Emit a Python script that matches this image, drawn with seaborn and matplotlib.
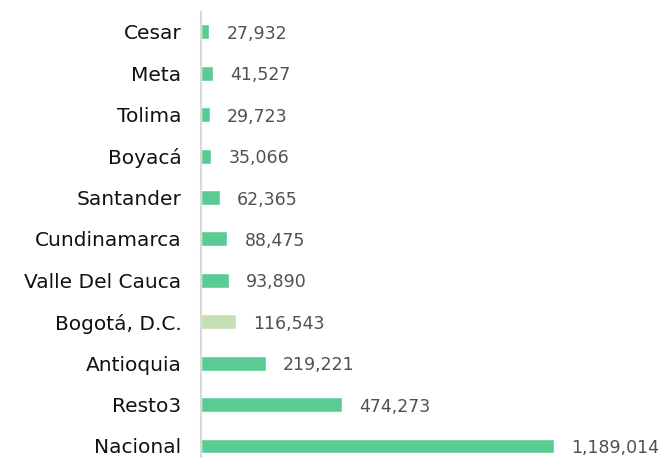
import matplotlib.pyplot as plt
import seaborn as sns
import pandas as pd

sns.set_style("white")
plt.rcParams['font.family'] = ['DejaVu Sans']

# Data
regiones = ["Cesar", "Meta", "Tolima", "Boyacá", "Santander", "Cundinamarca",
            "Valle Del Cauca", "Bogotá, D.C.", "Antioquia", "Resto3", "Nacional"]
valores = [27932, 41527, 29723, 35066, 62365, 88475,
           93890, 116543, 219221, 474273, 1189014]
colores = ["#5BCB94"] * 7 + ["#C5E0B4"] + ["#5BCB94"] * 3

df = pd.DataFrame({"region": regiones, "valor": valores})

fig = plt.figure(figsize=(6.63, 4.58), dpi=100)
ax = fig.add_axes([201 / 663, 0, 1 - 201 / 663, 1 - 12 / 458])
sns.barplot(data=df, y="region", x="valor", hue="region", palette=colores,
            saturation=1, legend=False, width=0.36, ax=ax, orient="h")

ax.set_xlim(0, 1189014 * 459 / 351)
ax.set_ylim(10.29, -0.48)
ax.set_xlabel("")
ax.set_ylabel("")
ax.set_xticks([])
for s in ["top", "right", "bottom"]:
    ax.spines[s].set_visible(False)
ax.spines["left"].set_color("#D9D9D9")
ax.spines["left"].set_linewidth(1.5)
ax.tick_params(axis="y", length=0, pad=14, labelsize=14.5, labelcolor="#111111")

off = 1189014 * 459 / 351 * 0.037
for i, v in enumerate(valores):
    ax.text(v + off, i, f"{v:,}", va="center_baseline", ha="left",
            fontsize=12.5, color="#505050")

fig.savefig("out.png", dpi=100)
